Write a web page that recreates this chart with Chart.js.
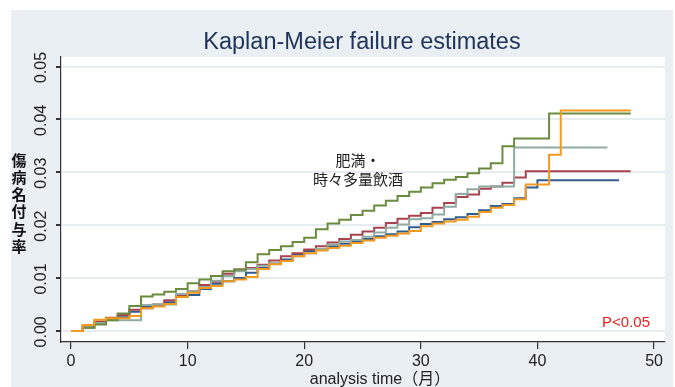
<!DOCTYPE html>
<html>
<head>
<meta charset="utf-8">
<script src="https://cdn.jsdelivr.net/npm/chart.js@4.4.1/dist/chart.umd.min.js"></script>
<style>
body { margin: 0; background: #fff; }
canvas { display: block; }
</style>
</head>
<body>
<canvas id="kmChart" width="675" height="387"></canvas>
<script>
// months since start (x values)
var months = [0, 1, 2, 3, 4, 5, 6, 7, 8, 9, 10, 11, 12, 13, 14, 15, 16, 17, 18, 19, 20,
    21, 22, 23, 24, 25, 26, 27, 28, 29, 30, 31, 32, 33, 34, 35, 36, 37, 38, 39, 40,
    41, 42, 43, 44, 45, 46, 47, 48];

// failure estimates per month
var navySeries = [0, 0.0006, 0.0015, 0.0022, 0.0026, 0.0036, 0.0045, 0.0048, 0.0054, 0.0065, 0.0068,
    0.0079, 0.0089, 0.0094, 0.0100, 0.0110, 0.0119, 0.0127, 0.0135, 0.0144, 0.0151,
    0.0155, 0.0160, 0.0165, 0.0170, 0.0174, 0.0179, 0.0183, 0.0188, 0.0196, 0.0202,
    0.0206, 0.0211, 0.0215, 0.0221, 0.0228, 0.0236, 0.0240, 0.0251, 0.0271, 0.0285,
    0.0285, 0.0285, 0.0285, 0.0285, 0.0285, 0.0285, 0.0285];
var maroonSeries = [0, 0.0010, 0.0018, 0.0025, 0.0030, 0.0040, 0.0043, 0.0050, 0.0058, 0.0068, 0.0075,
    0.0087, 0.0093, 0.0108, 0.0116, 0.0119, 0.0125, 0.0133, 0.0141, 0.0147, 0.0154,
    0.0160, 0.0167, 0.0174, 0.0182, 0.0188, 0.0195, 0.0204, 0.0212, 0.0218, 0.0223,
    0.0233, 0.0242, 0.0253, 0.0258, 0.0269, 0.0273, 0.0280, 0.0290, 0.0302, 0.0302,
    0.0302, 0.0302, 0.0302, 0.0302, 0.0302, 0.0302, 0.0302, 0.0302];
var tealSeries = [0, 0.0006, 0.0015, 0.0020, 0.0020, 0.0020, 0.0049, 0.0050, 0.0050, 0.0070, 0.0075,
    0.0083, 0.0095, 0.0104, 0.0113, 0.0117, 0.0123, 0.0128, 0.0132, 0.0141, 0.0147,
    0.0155, 0.0163, 0.0169, 0.0172, 0.0178, 0.0186, 0.0195, 0.0201, 0.0211, 0.0213,
    0.0220, 0.0235, 0.0259, 0.0268, 0.0273, 0.0273, 0.0273, 0.0347, 0.0347, 0.0347,
    0.0347, 0.0347, 0.0347, 0.0347, 0.0347, 0.0347];
var greenSeries = [0, 0.0006, 0.0012, 0.0020, 0.0033, 0.0047, 0.0065, 0.0069, 0.0074, 0.0079, 0.0090,
    0.0097, 0.0104, 0.0113, 0.0116, 0.0130, 0.0145, 0.0153, 0.0160, 0.0168, 0.0176,
    0.0192, 0.0203, 0.0210, 0.0219, 0.0227, 0.0237, 0.0246, 0.0255, 0.0263, 0.0271,
    0.0279, 0.0286, 0.0291, 0.0298, 0.0307, 0.0317, 0.0349, 0.0364, 0.0364, 0.0364,
    0.0411, 0.0411, 0.0411, 0.0411, 0.0411, 0.0411, 0.0411, 0.0411];
var orangeSeries = [0, 0.0011, 0.0021, 0.0024, 0.0024, 0.0028, 0.0043, 0.0046, 0.0051, 0.0064, 0.0072,
    0.0081, 0.0085, 0.0094, 0.0097, 0.0102, 0.0117, 0.0126, 0.0132, 0.0141, 0.0147,
    0.0152, 0.0157, 0.0161, 0.0166, 0.0171, 0.0176, 0.0180, 0.0184, 0.0189, 0.0198,
    0.0203, 0.0207, 0.0210, 0.0216, 0.0225, 0.0233, 0.0238, 0.0249, 0.0277, 0.0277,
    0.0333, 0.0417, 0.0417, 0.0417, 0.0417, 0.0417, 0.0417, 0.0417];

var xTicks = [0, 10, 20, 30, 40, 50];
var yTicks = [0, 0.01, 0.02, 0.03, 0.04, 0.05];
var yTickLabels = ["0.00", "0.01", "0.02", "0.03", "0.04", "0.05"];

var titleText = "Kaplan-Meier failure estimates";
var xTitle = "analysis time（月）";
var yTitleChars = ["傷", "病", "名", "付", "与", "率"];
var noteLines = ["肥満・", "時々多量飲酒"];
var pText = "P<0.05";

var SANS = '"Liberation Sans", Arial, "Noto Sans CJK JP", sans-serif';
var CJK = '"Noto Sans CJK JP", sans-serif';

function toPoints(values) {
    return values.map(function (v, i) { return { x: months[i], y: v }; });
}

function series(values, color) {
    return {
        data: toPoints(values),
        borderColor: color,
        borderWidth: 2,
        pointRadius: 0,
        fill: false,
        stepped: true
    };
}

// background panel and all free text
var decorPlugin = {
    id: "decor",
    beforeDraw: function (chart) {
        var ctx = chart.ctx, a = chart.chartArea;
        ctx.save();
        ctx.fillStyle = "#ffffff";
        ctx.fillRect(0, 0, chart.width, chart.height);
        ctx.fillStyle = "#e9eff2";
        ctx.fillRect(11, 10, 662, 377);
        ctx.fillStyle = "#ffffff";
        ctx.fillRect(a.left, a.top, a.right - a.left, a.bottom - a.top);
        ctx.restore();
    },
    afterDraw: function (chart) {
        var ctx = chart.ctx, y = chart.scales.y;
        ctx.save();

        ctx.fillStyle = "#1f3358";
        ctx.font = "23.5px " + SANS;
        ctx.textAlign = "center";
        ctx.textBaseline = "alphabetic";
        ctx.fillText(titleText, 362, 49);

        ctx.fillStyle = "#222";
        ctx.font = "16px " + SANS;
        ctx.fillText(xTitle, 380, 384);

        // rotated y tick labels
        ctx.font = "16px " + SANS;
        ctx.textBaseline = "middle";
        yTicks.forEach(function (v, i) {
            ctx.save();
            ctx.translate(42, y.getPixelForValue(v) + 1);
            ctx.rotate(-Math.PI / 2);
            ctx.fillText(yTickLabels[i], 0, 0);
            ctx.restore();
        });

        // upright stacked y title
        ctx.font = "bold 15px " + CJK;
        ctx.fillStyle = "#111";
        yTitleChars.forEach(function (c, i) {
            ctx.fillText(c, 19, 160 + i * 17.2);
        });

        ctx.font = "15px " + CJK;
        ctx.fillStyle = "#222";
        ctx.fillText(noteLines[0], 358, 160);
        ctx.fillText(noteLines[1], 358, 179);

        ctx.font = "15px " + SANS;
        ctx.fillStyle = "#e8201e";
        ctx.fillText(pText, 626, 323);
        ctx.restore();
    }
};

new Chart(document.getElementById("kmChart"), {
    type: "line",
    data: {
        datasets: [
            series(orangeSeries, "#f29a1f"),
            series(greenSeries, "#6b8b3f"),
            series(tealSeries, "#90aba3"),
            series(maroonSeries, "#a6434f"),
            series(navySeries, "#2f5d92")
        ]
    },
    plugins: [decorPlugin],
    options: {
        responsive: false,
        animation: false,
        devicePixelRatio: 1,
        layout: { padding: { left: 11, right: 10, top: 57, bottom: 0 } },
        plugins: {
            legend: { display: false },
            title: { display: false },
            tooltip: { enabled: false }
        },
        scales: {
            x: {
                type: "linear",
                min: -0.86,
                max: 50.94,
                afterBuildTicks: function (s) { s.ticks = xTicks.map(function (v) { return { value: v }; }); },
                afterFit: function (s) { s.height = 45; },
                grid: { drawOnChartArea: false, drawTicks: true, tickLength: 7, tickColor: "#333", lineWidth: 1.2 },
                border: { display: true, color: "#333", width: 1.2 },
                ticks: {
                    color: "#222",
                    font: { family: SANS, size: 16 },
                    padding: 3,
                    maxRotation: 0,
                    callback: function (v) { return String(v); }
                }
            },
            y: {
                min: -0.0021,
                max: 0.0518,
                afterBuildTicks: function (s) { s.ticks = yTicks.map(function (v) { return { value: v }; }); },
                afterFit: function (s) { s.width = 50; },
                grid: { color: "#e6edf1", lineWidth: 2, drawTicks: true, tickLength: 5, tickColor: "#333" },
                border: { display: true, color: "#333", width: 1.2 },
                ticks: { display: false }
            }
        }
    }
});
</script>
</body>
</html>
